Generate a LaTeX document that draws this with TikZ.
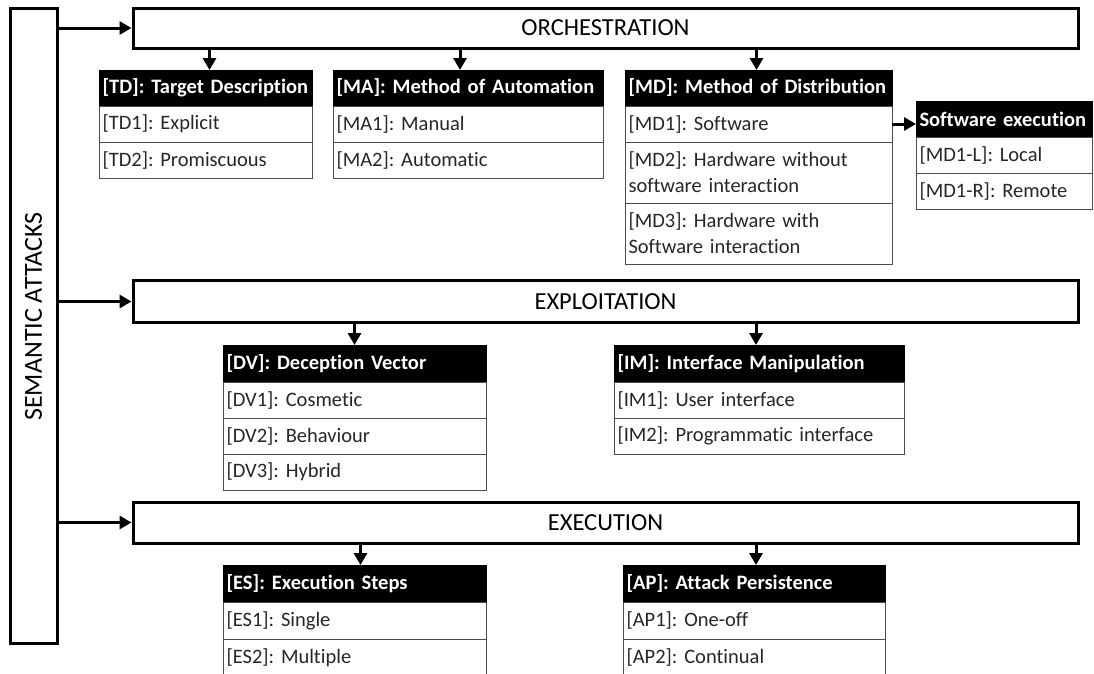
\documentclass[tikz,border=0pt]{standalone}
\usepackage{fontspec}
\usepackage{graphicx}
\setmainfont{Carlito}[RawFeature={-liga}]
\frenchspacing
\usetikzlibrary{arrows.meta}
\begin{document}
\begin{tikzpicture}[x=1pt,y=-1pt,
  mainbox/.style={draw, line width=3pt, inner sep=0pt, font=\fontsize{24.5}{29}\selectfont},
  hdr/.style={draw=black, fill=black, text=white, line width=1pt, outer sep=0pt,
    inner xsep=3.5pt, inner ysep=0pt, anchor=north west, minimum height=36pt,
    text width=#1, align=left, font=\fontsize{20.5}{26}\bfseries\selectfont},
  cell/.style={draw=black!70, line width=1pt, outer sep=0pt, text=black!85,
    inner xsep=3.5pt, inner ysep=0pt, anchor=north west, minimum height=36pt,
    text width=#1, align=left, font=\fontsize{20.5}{26}\selectfont},
  tallcell/.style={cell=#1, minimum height=61pt},
  low/.style={minimum height=37pt},
  arr/.style={line width=3pt, -{Triangle[length=12pt,width=13pt]}}
]
\useasboundingbox (0,0) rectangle (1094,673);
\clip (0,0) rectangle (1094,673);

% root and the three phases
\node[draw, line width=3pt, minimum width=47pt, minimum height=635pt, inner sep=0pt,
  font=\fontsize{26}{30}\selectfont] (sem) at (33.5,325.5) {\rotatebox{90}{\hspace*{18pt}SEMANTIC ATTACKS}};
\node[mainbox, minimum width=945pt, minimum height=40pt] (orch) at (605.5,28) {ORCHESTRATION};
\node[mainbox, minimum width=945pt, minimum height=42pt] (expl) at (605.5,301.5) {EXPLOITATION};
\node[mainbox, minimum width=945pt, minimum height=41pt] (exec) at (605.5,522.5) {EXECUTION};

% orchestration tables
\node[hdr=206pt] (td) at (99,70) {[TD]: Target Description};
\node[cell=206pt] (td1) at (td.south west) {[TD1]: Explicit};
\node[cell=206pt] (td2) at (td1.south west) {[TD2]: Promiscuous};

\node[hdr=263pt] (ma) at (333,70) {[MA]: Method of Automation};
\node[cell=263pt] (ma1) at (ma.south west) {[MA1]: Manual};
\node[cell=263pt] (ma2) at (ma1.south west) {[MA2]: Automatic};

\node[hdr=260pt] (md) at (625,70) {[MD]: Method of Distribution};
\node[cell=260pt] (md1) at (md.south west) {[MD1]: Software};
\node[tallcell=260pt] (md2) at (md1.south west) {[MD2]: Hardware without\\software interaction};
\node[tallcell=260pt] (md3) at (md2.south west) {[MD3]: Hardware with\\Software interaction};

\node[hdr=169pt] (se) at (916,101) {Software execution};
\node[cell=169pt] (se1) at (se.south west) {[MD1-L]: Local};
\node[cell=169pt] (se2) at (se1.south west) {[MD1-R]: Remote};

% exploitation tables
\node[hdr=256pt, low] (dv) at (223,345) {[DV]: Deception Vector};
\node[cell=256pt] (dv1) at (dv.south west) {[DV1]: Cosmetic};
\node[cell=256pt] (dv2) at (dv1.south west) {[DV2]: Behaviour};
\node[cell=256pt] (dv3) at (dv2.south west) {[DV3]: Hybrid};

\node[hdr=283pt, low] (im) at (614,345) {[IM]: Interface Manipulation};
\node[cell=283pt] (im1) at (im.south west) {[IM1]: User interface};
\node[cell=283pt] (im2) at (im1.south west) {[IM2]: Programmatic interface};

% execution tables
\node[hdr=256pt, low] (es) at (223,565) {[ES]: Execution Steps};
\node[cell=256pt, low] (es1) at (es.south west) {[ES1]: Single};
\node[cell=256pt, low] (es2) at (es1.south west) {[ES2]: Multiple};

\node[hdr=255pt, low] (ap) at (623,565) {[AP]: Attack Persistence};
\node[cell=255pt, low] (ap1) at (ap.south west) {[AP1]: One-off};
\node[cell=255pt, low] (ap2) at (ap1.south west) {[AP2]: Continual};

% connectors
\draw[arr] (sem.east |- orch.west) -- (orch.west);
\draw[arr] (sem.east |- expl.west) -- (expl.west);
\draw[arr] (sem.east |- exec.west) -- (exec.west);

\draw[arr] ([xshift=4pt]orch.south -| td.north) -- ([xshift=4pt]td.north);
\draw[arr] ([xshift=-8pt]orch.south -| ma.north) -- ([xshift=-8pt]ma.north);
\draw[arr] ([xshift=-2pt]orch.south -| md.north) -- ([xshift=-2pt]md.north);
\draw[arr] (md1.east) -- (md1.east -| se.west);

\draw[arr] (expl.south -| dv.north) -- (dv.north);
\draw[arr] ([xshift=-3pt]expl.south -| im.north) -- ([xshift=-3pt]im.north);

\draw[arr] ([xshift=6pt]exec.south -| es.north) -- ([xshift=6pt]es.north);
\draw[arr] ([xshift=2pt]exec.south -| ap.north) -- ([xshift=2pt]ap.north);
\end{tikzpicture}
\end{document}
